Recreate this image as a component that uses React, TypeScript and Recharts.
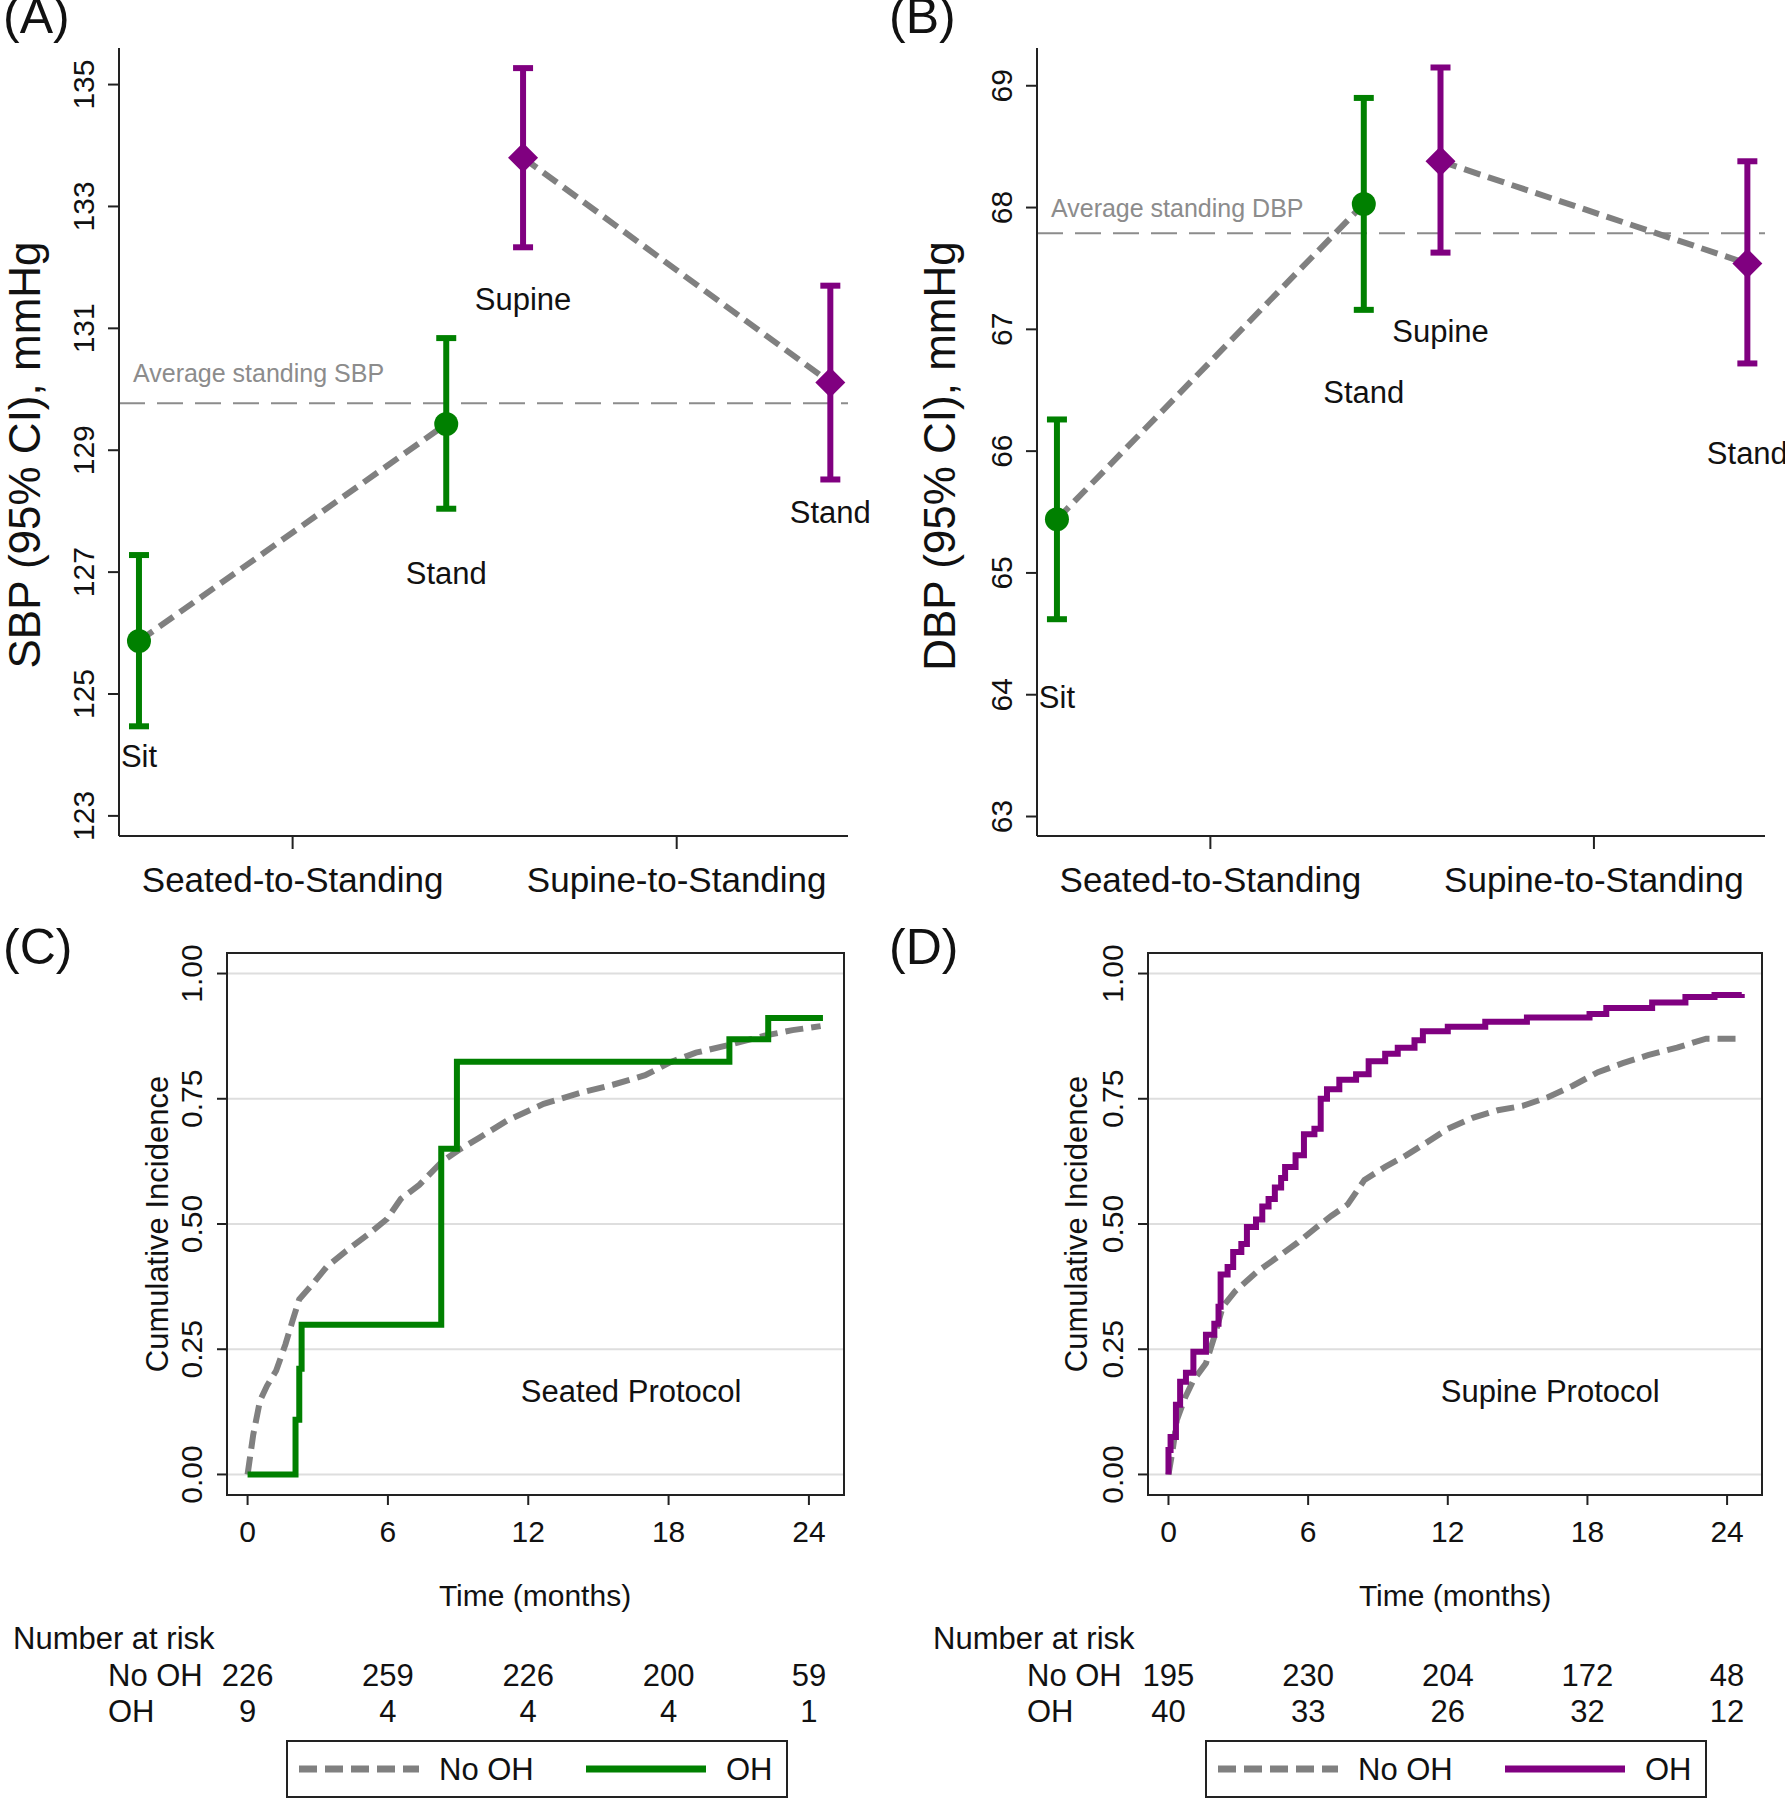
import {
  CartesianGrid,
  ComposedChart,
  ErrorBar,
  Legend,
  Line,
  ReferenceArea,
  ReferenceLine,
  Scatter,
  XAxis,
  YAxis,
} from "recharts";

const FONT = "'Liberation Sans', Arial, Helvetica, sans-serif";
const GREEN = "#008000";
const PURPLE = "#800080";
const GRAY = "#808080";
const INK = "#111";

// panels A and B: Sit, Stand (seated protocol), Supine, Stand (supine protocol)
const stageNames = ["Sit", "Stand", "Supine", "Stand"];
const stageX = [0, 4, 5, 9];
const protocolTicks = [2, 7];
const protocolNames = ["Seated-to-Standing", "Supine-to-Standing"];

const sbpMean = [125.87, 129.43, 133.8, 130.11];
const sbpLow = [124.47, 128.04, 132.33, 128.52];
const sbpHigh = [127.28, 130.84, 135.27, 131.7];
const sbpTicks = [123, 125, 127, 129, 131, 133, 135];
const avgStandingSbp = 129.77;

const dbpMean = [65.44, 68.03, 68.38, 67.54];
const dbpLow = [64.62, 67.16, 67.63, 66.72];
const dbpHigh = [66.26, 68.9, 69.15, 68.38];
const dbpTicks = [63, 64, 65, 66, 67, 68, 69];
const avgStandingDbp = 67.79;

// panels C and D: cumulative incidence
const months = [0, 6, 12, 18, 24];
const incidenceTicks = [0, 0.25, 0.5, 0.75, 1];

const seatedNoOhT = [0, 0.24, 0.53, 0.83, 1.22, 1.62, 1.91, 2.21, 2.8, 3.39, 4.18, 5.17, 5.96, 6.55, 7.34, 8.32, 9.11, 9.9, 11.08, 12.66, 14.24, 15.62, 17.0, 18.08, 19.17, 20.55, 22.1, 23.3, 24.5];
const seatedNoOhV = [0, 0.079, 0.147, 0.177, 0.207, 0.26, 0.305, 0.35, 0.381, 0.415, 0.445, 0.48, 0.51, 0.55, 0.578, 0.625, 0.65, 0.672, 0.706, 0.74, 0.762, 0.778, 0.797, 0.823, 0.842, 0.857, 0.876, 0.887, 0.895];
const seatedOhT = [0, 2.05, 2.21, 2.31, 8.28, 8.95, 20.6, 22.26, 24.6];
const seatedOhV = [0, 0.109, 0.211, 0.299, 0.65, 0.824, 0.869, 0.911, 0.911];

const supineNoOhT = [0, 0.18, 0.36, 0.72, 1.07, 1.61, 1.97, 2.33, 2.87, 3.76, 4.66, 5.55, 6.27, 6.99, 7.7, 8.42, 9.31, 10.21, 11.1, 12.0, 13.07, 14.15, 15.22, 16.3, 17.37, 18.45, 19.52, 20.6, 21.85, 23.1, 24.63];
const supineNoOhV = [0, 0.049, 0.109, 0.154, 0.188, 0.222, 0.275, 0.335, 0.366, 0.403, 0.433, 0.463, 0.49, 0.516, 0.539, 0.588, 0.614, 0.637, 0.663, 0.69, 0.712, 0.727, 0.736, 0.753, 0.776, 0.803, 0.821, 0.837, 0.852, 0.87, 0.87];
const supineOhT = [0, 0, 0.09, 0.32, 0.5, 0.75, 1.07, 1.61, 1.97, 2.15, 2.24, 2.54, 2.78, 3.13, 3.37, 3.76, 4.03, 4.3, 4.57, 4.84, 5.01, 5.46, 5.82, 6.27, 6.54, 6.81, 7.34, 8.06, 8.6, 9.31, 9.85, 10.57, 10.93, 12.0, 13.61, 15.4, 18.09, 18.81, 20.78, 22.21, 23.46, 24.63];
const supineOhV = [0, 0.049, 0.075, 0.139, 0.185, 0.203, 0.245, 0.279, 0.301, 0.335, 0.399, 0.414, 0.444, 0.46, 0.494, 0.509, 0.535, 0.55, 0.573, 0.592, 0.614, 0.637, 0.679, 0.69, 0.75, 0.769, 0.788, 0.799, 0.825, 0.84, 0.852, 0.867, 0.885, 0.894, 0.904, 0.912, 0.919, 0.931, 0.942, 0.953, 0.957, 0.959];

const seatedRiskNoOh = [226, 259, 226, 200, 59];
const seatedRiskOh = [9, 4, 4, 4, 1];
const supineRiskNoOh = [195, 230, 204, 172, 48];
const supineRiskOh = [40, 33, 26, 32, 12];

// where the text annotations sit, in data units
const sbpLabelY = [123.98, 126.98, 131.47, 127.97];
const dbpLabelY = [63.98, 66.48, 66.98, 65.98];
const protocolNote = { t: 16.4, v: 0.166 };

const bpXDomain: [number, number] = [-0.26, 9.23];
const kmXDomain: [number, number] = [-0.88, 25.5];
const kmYDomain: [number, number] = [-0.041, 1.041];

function RotatedTick(props: any) {
  const { x, y, payload, shift, size, digits } = props;
  return (
    <text
      transform={`translate(${x - shift},${y}) rotate(-90)`}
      textAnchor="middle"
      dominantBaseline="central"
      fontSize={size}
      fontFamily={FONT}
      fill={INK}
    >
      {Number(payload.value).toFixed(digits)}
    </text>
  );
}

function ProtocolTick(props: any) {
  const { x, y, payload } = props;
  const i = protocolTicks.indexOf(payload.value);
  return (
    <text x={x} y={y + 30} textAnchor="middle" dominantBaseline="central" fontSize={35} fontFamily={FONT} fill={INK}>
      {protocolNames[i]}
    </text>
  );
}

function MonthTick(props: any) {
  const { x, y, payload, rows } = props;
  const i = months.indexOf(payload.value);
  return (
    <g>
      <text x={x} y={y + 26} textAnchor="middle" dominantBaseline="central" fontSize={30} fontFamily={FONT} fill={INK}>
        {payload.value}
      </text>
      {rows.map((r: number[], k: number) => (
        <text key={k} x={x} y={y + 170 + 36 * k} textAnchor="middle" dominantBaseline="central" fontSize={31} fontFamily={FONT} fill={INK}>
          {r[i]}
        </text>
      ))}
    </g>
  );
}

const circleShape = (p: any) => <circle cx={p.cx} cy={p.cy} r={12} fill={GREEN} />;
const diamondShape = (p: any) => (
  <polygon
    points={`${p.cx},${p.cy - 15} ${p.cx + 15},${p.cy} ${p.cx},${p.cy + 15} ${p.cx - 15},${p.cy}`}
    fill={PURPLE}
  />
);
const textShape = (p: any) => (
  <text x={p.cx} y={p.cy} textAnchor="middle" dominantBaseline="central" fontSize={31} fontFamily={FONT} fill={INK}>
    {p.payload.name}
  </text>
);

function BpPanel(props: {
  mean: number[];
  low: number[];
  high: number[];
  labelY: number[];
  yTicks: number[];
  yDomain: [number, number];
  avg: number;
  avgText: string;
  avgLift: number;
  width: number;
  yAxisWidth: number;
  rightMargin: number;
}) {
  const pts = stageX.map((x, i) => ({
    x,
    y: props.mean[i],
    err: [props.mean[i] - props.low[i], props.high[i] - props.mean[i]],
  }));
  const seated = pts.slice(0, 2);
  const supine = pts.slice(2);
  const labels = stageX.map((x, i) => ({ x, y: props.labelY[i], name: stageNames[i] }));

  return (
    <ComposedChart
      width={props.width}
      height={900}
      margin={{ top: 48, right: props.rightMargin, bottom: 0, left: 0 }}
    >
      <XAxis
        type="number"
        dataKey="x"
        domain={bpXDomain}
        ticks={protocolTicks}
        height={64}
        tickSize={13}
        tickMargin={0}
        stroke="#222"
        strokeWidth={2}
        tick={<ProtocolTick />}
      />
      <YAxis
        type="number"
        domain={props.yDomain}
        ticks={props.yTicks}
        width={props.yAxisWidth}
        tickSize={11}
        tickMargin={0}
        stroke="#222"
        strokeWidth={2}
        tick={<RotatedTick shift={25} size={30} digits={0} />}
      />
      <ReferenceLine
        y={props.avg}
        stroke="#8c8c8c"
        strokeWidth={2}
        strokeDasharray="26 12"
        label={{
          content: (p: any) => (
            <text
              x={p.viewBox.x + 14}
              y={p.viewBox.y - props.avgLift}
              fontSize={25}
              fontFamily={FONT}
              fill="#8c8c8c"
            >
              {props.avgText}
            </text>
          ),
        }}
      />
      <Line data={seated} dataKey="y" stroke={GRAY} strokeWidth={6} strokeDasharray="17 8" dot={false} isAnimationActive={false} />
      <Line data={supine} dataKey="y" stroke={GRAY} strokeWidth={6} strokeDasharray="17 8" dot={false} isAnimationActive={false} />
      <Scatter data={seated} dataKey="y" fill={GREEN} shape={circleShape} isAnimationActive={false}>
        <ErrorBar dataKey="err" direction="y" width={10} stroke={GREEN} strokeWidth={6} />
      </Scatter>
      <Scatter data={supine} dataKey="y" fill={PURPLE} shape={diamondShape} isAnimationActive={false}>
        <ErrorBar dataKey="err" direction="y" width={10} stroke={PURPLE} strokeWidth={6} />
      </Scatter>
      <Scatter data={labels} dataKey="y" shape={textShape} isAnimationActive={false} />
    </ComposedChart>
  );
}

function renderKmLegend(props: any) {
  const items = (props.payload || []).filter((e: any) => e.type !== "none").slice(0, 2);
  return (
    <svg width={502} height={58} style={{ display: "block" }}>
      <rect x={1} y={1} width={500} height={56} fill="#fff" stroke="#222" strokeWidth={2} />
      {items.map((e: any, i: number) => {
        const x0 = i === 0 ? 13 : 300;
        const dash = e.payload && e.payload.strokeDasharray;
        return (
          <g key={i}>
            <line x1={x0} x2={x0 + 120} y1={29} y2={29} stroke={e.color} strokeWidth={7} strokeDasharray={dash} />
            <text x={x0 + 140} y={29} dominantBaseline="central" fontSize={31} fontFamily={FONT} fill={INK}>
              {e.value}
            </text>
          </g>
        );
      })}
    </svg>
  );
}

function KmPanel(props: {
  noOhT: number[];
  noOhV: number[];
  ohT: number[];
  ohV: number[];
  ohColor: string;
  riskNoOh: number[];
  riskOh: number[];
  protocol: string;
  width: number;
  yAxisWidth: number;
  rightMargin: number;
  legendLeft: number;
}) {
  const noOh = props.noOhT.map((t, i) => ({ t, v: props.noOhV[i] }));
  const oh = props.ohT.map((t, i) => ({ t, v: props.ohV[i] }));
  const note = [{ t: protocolNote.t, v: protocolNote.v, name: props.protocol }];

  return (
    <ComposedChart
      width={props.width}
      height={900}
      margin={{ top: 53, right: props.rightMargin, bottom: 0, left: 0 }}
    >
      <CartesianGrid vertical={false} stroke="#dedede" strokeWidth={2} />
      <XAxis
        type="number"
        dataKey="t"
        domain={kmXDomain}
        ticks={months}
        allowDataOverflow
        height={305}
        axisLine={false}
        tickSize={10}
        tickMargin={0}
        stroke="#222"
        strokeWidth={2}
        tick={<MonthTick rows={[props.riskNoOh, props.riskOh]} />}
      />
      <YAxis
        type="number"
        domain={kmYDomain}
        ticks={incidenceTicks}
        allowDataOverflow
        width={props.yAxisWidth}
        axisLine={false}
        tickSize={10}
        tickMargin={0}
        stroke="#222"
        strokeWidth={2}
        tick={<RotatedTick shift={26} size={30} digits={2} />}
      />
      <ReferenceArea
        x1={kmXDomain[0]}
        x2={kmXDomain[1]}
        y1={kmYDomain[0]}
        y2={kmYDomain[1]}
        fill="none"
        stroke="#222"
        strokeWidth={2}
      />
      <Line data={noOh} dataKey="v" name="No OH" type="linear" stroke={GRAY} strokeWidth={6} strokeDasharray="18 8" dot={false} isAnimationActive={false} />
      <Line data={oh} dataKey="v" name="OH" type="stepAfter" stroke={props.ohColor} strokeWidth={6} dot={false} isAnimationActive={false} />
      <Scatter data={note} dataKey="v" legendType="none" shape={textShape} isAnimationActive={false} />
      <Legend
        verticalAlign="middle"
        align="center"
        content={renderKmLegend}
        wrapperStyle={{ left: props.legendLeft, top: 840, width: 502, height: 58 }}
      />
    </ComposedChart>
  );
}

function Txt(props: { children: any; x: number; y: number; size: number; center?: boolean; rotate?: boolean }) {
  const t = props.rotate
    ? "translate(-50%,-50%) rotate(-90deg)"
    : props.center
    ? "translate(-50%,-50%)"
    : "translateY(-50%)";
  return (
    <div
      style={{
        position: "absolute",
        left: props.x,
        top: props.y,
        fontSize: props.size,
        lineHeight: 1,
        whiteSpace: "nowrap",
        transform: t,
        color: INK,
      }}
    >
      {props.children}
    </div>
  );
}

export default function App() {
  return (
    <div
      style={{
        position: "absolute",
        left: 0,
        top: 0,
        width: 1785,
        height: 1800,
        background: "#fff",
        fontFamily: FONT,
        overflow: "hidden",
      }}
    >
      <div style={{ position: "absolute", left: 0, top: 0 }}>
        <BpPanel
          mean={sbpMean}
          low={sbpLow}
          high={sbpHigh}
          labelY={sbpLabelY}
          yTicks={sbpTicks}
          yDomain={[122.67, 135.6]}
          avg={avgStandingSbp}
          avgText="Average standing SBP"
          avgLift={21}
          width={890}
          yAxisWidth={119}
          rightMargin={42}
        />
      </div>
      <div style={{ position: "absolute", left: 890, top: 0 }}>
        <BpPanel
          mean={dbpMean}
          low={dbpLow}
          high={dbpHigh}
          labelY={dbpLabelY}
          yTicks={dbpTicks}
          yDomain={[62.84, 69.31]}
          avg={avgStandingDbp}
          avgText="Average standing DBP"
          avgLift={16}
          width={895}
          yAxisWidth={147}
          rightMargin={20}
        />
      </div>
      <div style={{ position: "absolute", left: 0, top: 900 }}>
        <KmPanel
          noOhT={seatedNoOhT}
          noOhV={seatedNoOhV}
          ohT={seatedOhT}
          ohV={seatedOhV}
          ohColor={GREEN}
          riskNoOh={seatedRiskNoOh}
          riskOh={seatedRiskOh}
          protocol="Seated Protocol"
          width={890}
          yAxisWidth={227}
          rightMargin={46}
          legendLeft={286}
        />
      </div>
      <div style={{ position: "absolute", left: 890, top: 900 }}>
        <KmPanel
          noOhT={supineNoOhT}
          noOhV={supineNoOhV}
          ohT={supineOhT}
          ohV={supineOhV}
          ohColor={PURPLE}
          riskNoOh={supineRiskNoOh}
          riskOh={supineRiskOh}
          protocol="Supine Protocol"
          width={895}
          yAxisWidth={258}
          rightMargin={23}
          legendLeft={315}
        />
      </div>

      <Txt x={3} y={16} size={50}>(A)</Txt>
      <Txt x={889} y={16} size={50}>(B)</Txt>
      <Txt x={3} y={947} size={50}>(C)</Txt>
      <Txt x={889} y={947} size={50}>(D)</Txt>

      <Txt x={25} y={455} size={44} rotate>SBP (95% CI), mmHg</Txt>
      <Txt x={940} y={456} size={44} rotate>DBP (95% CI), mmHg</Txt>

      <Txt x={157} y={1224} size={31} rotate>Cumulative Incidence</Txt>
      <Txt x={1076} y={1224} size={31} rotate>Cumulative Incidence</Txt>
      <Txt x={535} y={1596} size={30} center>Time (months)</Txt>
      <Txt x={1455} y={1596} size={30} center>Time (months)</Txt>

      <Txt x={13} y={1638} size={31}>Number at risk</Txt>
      <Txt x={108} y={1675} size={31}>No OH</Txt>
      <Txt x={108} y={1711} size={31}>OH</Txt>
      <Txt x={933} y={1638} size={31}>Number at risk</Txt>
      <Txt x={1027} y={1675} size={31}>No OH</Txt>
      <Txt x={1027} y={1711} size={31}>OH</Txt>
    </div>
  );
}
